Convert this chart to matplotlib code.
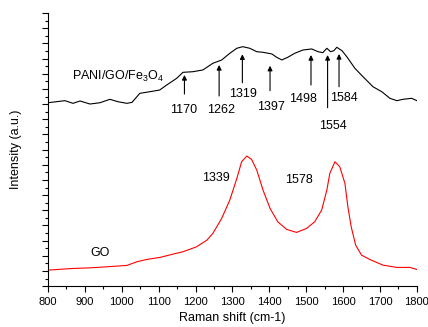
import matplotlib
matplotlib.use('Agg')
import matplotlib.pyplot as plt
from matplotlib.ticker import MultipleLocator, NullFormatter

plt.rcParams['font.family'] = ['Liberation Sans', 'DejaVu Sans']
plt.rcParams['mathtext.default'] = 'regular'

# PANI/GO/Fe3O4 spectrum (black), arbitrary units
pani_x = [800, 846, 868, 887, 914, 941, 968, 990, 1014, 1028, 1049, 1076, 1103,
          1122, 1149, 1166, 1193, 1220, 1247, 1271, 1293, 1312, 1328, 1347, 1366,
          1383, 1407, 1420, 1434, 1450, 1469, 1491, 1515, 1532, 1545, 1556, 1566,
          1575, 1583, 1597, 1610, 1632, 1654, 1681, 1705, 1727, 1746, 1762, 1786, 1800]
pani_y = [24.18, 24.45, 24.10, 24.41, 24.01, 24.18, 24.63, 24.31, 24.10, 24.23,
          25.42, 25.63, 25.86, 26.52, 27.40, 28.19, 28.27, 28.50, 29.38, 29.82,
          30.70, 31.36, 31.57, 31.36, 30.91, 30.83, 30.61, 30.17, 29.82, 30.17,
          30.70, 31.13, 31.27, 30.91, 30.78, 31.36, 30.91, 31.04, 31.49, 31.04,
          30.25, 28.72, 27.61, 26.29, 25.63, 24.76, 24.45, 24.63, 24.76, 24.45]

# GO spectrum (red)
go_x = [800, 868, 914, 960, 1014, 1041, 1068, 1104, 1139, 1166, 1203, 1231, 1247,
        1271, 1293, 1312, 1325, 1339, 1352, 1366, 1383, 1402, 1423, 1447, 1474,
        1501, 1523, 1542, 1556, 1564, 1578, 1591, 1605, 1613, 1622, 1634, 1650,
        1672, 1708, 1745, 1781, 1800]
go_y = [2.11, 2.33, 2.41, 2.55, 2.73, 3.21, 3.52, 3.79, 4.22, 4.53, 5.19, 6.07,
        6.95, 8.93, 11.35, 14.2, 16.40, 17.15, 16.71, 15.30, 12.66, 10.25, 8.48,
        7.48, 7.08, 7.61, 8.48, 10.03, 12.66, 14.87, 16.40, 15.74, 13.55, 10.46,
        7.82, 5.41, 4.09, 3.52, 2.77, 2.47, 2.47, 2.20]

# arrow annotations on the PANI/GO/Fe3O4 curve
peak_labels = ['1170', '1262', '1319', '1397', '1498', '1554', '1584']
arrow_x = [1170, 1264, 1327, 1402, 1513, 1558, 1589]
arrow_tip = [27.84, 29.16, 30.57, 29.06, 30.47, 30.47, 30.61]
arrow_tail = [25.33, 25.07, 26.82, 25.77, 26.52, 23.52, 26.29]
label_x = [1168, 1270, 1328, 1404, 1491, 1572, 1602]
label_y = [23.22, 23.22, 25.33, 23.65, 24.63, 21.11, 24.76]

fig = plt.figure(figsize=(4.28, 3.27), dpi=100)
ax = fig.add_axes([0.112, 0.125, 0.862, 0.835])

ax.plot(pani_x, pani_y, color='black', lw=0.8)
ax.plot(go_x, go_y, color='red', lw=0.8)

for t, x, tip, tail, lx, ly in zip(peak_labels, arrow_x, arrow_tip, arrow_tail, label_x, label_y):
    ax.annotate('', xy=(x, tip), xytext=(x, tail),
                arrowprops=dict(arrowstyle='-|>', color='black', lw=0.8,
                                mutation_scale=7, shrinkA=0, shrinkB=0))
    ax.text(lx, ly, t, fontsize=9, ha='center', va='center')

ax.text(865, 27.7, 'PANI/GO/Fe$_3$O$_4$', fontsize=9, ha='left', va='center')
ax.text(941, 4.39, 'GO', fontsize=9, ha='center', va='center')
ax.text(1255, 14.25, '1339', fontsize=9, ha='center', va='center')
ax.text(1480, 13.98, '1578', fontsize=9, ha='center', va='center')

ax.set_xlim(800, 1800)
ax.set_ylim(0, 36)
ax.xaxis.set_major_locator(MultipleLocator(100))
ax.xaxis.set_minor_locator(MultipleLocator(50))
ax.yaxis.set_major_locator(MultipleLocator(2))
ax.yaxis.set_minor_locator(MultipleLocator(1))
ax.yaxis.set_major_formatter(NullFormatter())
ax.tick_params(which='major', direction='out', length=4, width=0.8, labelsize=8)
ax.tick_params(which='minor', direction='out', length=2.5, width=0.8)

ax.spines['top'].set_visible(False)
ax.spines['right'].set_visible(False)

ax.set_xlabel('Raman shift (cm-1)', fontsize=9)
ax.set_ylabel('Intensity (a.u.)', fontsize=9)
ax.yaxis.set_label_coords(-0.07, 0.5)

fig.savefig('out.png', dpi=100)
